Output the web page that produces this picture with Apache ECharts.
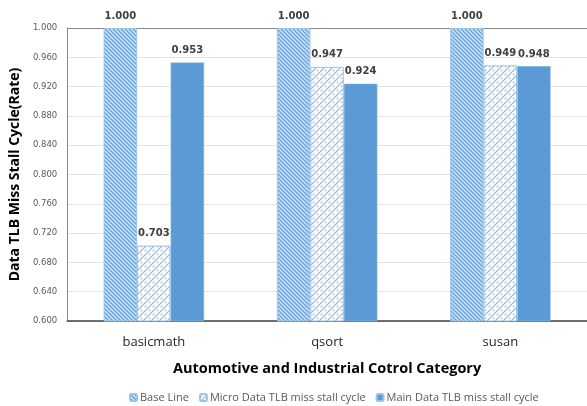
<!DOCTYPE html>
<html>
<head>
<meta charset="utf-8">
<script src="https://cdn.jsdelivr.net/npm/echarts@6/dist/echarts.min.js"></script>
<style>
  html, body { margin: 0; padding: 0; background: #fff; }
  #chart { width: 587px; height: 406px; }
</style>
</head>
<body>
<div id="chart"></div>
<script>
// Benchmarks in the automotive / industrial control category
const categories = ['basicmath', 'qsort', 'susan'];
const seriesNames = ['Base Line', 'Micro Data TLB miss stall cycle', 'Main Data TLB miss stall cycle'];
const baseLine = [1.000, 1.000, 1.000];
const microStall = [0.703, 0.947, 0.949];
const mainStall = [0.953, 0.924, 0.948];

// Dense "\\\" hatch for the baseline bars
function baseHatch() {
  const c = document.createElement('canvas');
  c.width = 4; c.height = 4;
  const g = c.getContext('2d');
  g.fillStyle = '#c9ddf1';
  g.fillRect(0, 0, 4, 4);
  g.strokeStyle = '#5b9bd5';
  g.lineWidth = 1.1;
  g.beginPath();
  g.moveTo(-1, -1); g.lineTo(5, 5);
  g.moveTo(-1, 3); g.lineTo(1, 5);
  g.moveTo(3, -1); g.lineTo(5, 1);
  g.stroke();
  return c;
}

// Light dashed "///" lattice on white for the micro TLB bars
function microHatch() {
  const c = document.createElement('canvas');
  c.width = 8; c.height = 8;
  const g = c.getContext('2d');
  g.fillStyle = '#ffffff';
  g.fillRect(0, 0, 8, 8);
  g.strokeStyle = '#8cb8e4';
  g.lineWidth = 1.2;
  g.beginPath();
  g.moveTo(0, 8); g.lineTo(8, 0);
  g.moveTo(-1, 1); g.lineTo(1, -1);
  g.moveTo(7, 9); g.lineTo(9, 7);
  g.stroke();
  g.beginPath();
  g.moveTo(1, 2); g.lineTo(2, 3);
  g.moveTo(5, 6); g.lineTo(6, 7);
  g.stroke();
  return c;
}

const labelStyle = {
  show: true,
  position: 'top',
  distance: 7,
  fontFamily: 'DejaVu Sans',
  fontWeight: 'bold',
  fontSize: 10,
  color: '#404040',
  formatter: p => p.value.toFixed(3)
};

const chart = echarts.init(document.getElementById('chart'), null, { renderer: 'canvas' });

chart.setOption({
  animation: false,
  backgroundColor: '#ffffff',
  grid: { left: 63.5, right: -2, top: 28, bottom: 85 },
  legend: {
    top: 387,
    left: 124,
    itemWidth: 7,
    itemHeight: 7,
    itemGap: 10,
    textStyle: { fontFamily: 'Open Sans', fontSize: 11, color: '#595959', padding: [0, 0, 0, -2] },
    data: seriesNames
  },
  xAxis: [
    {
      type: 'category',
      data: categories,
      axisLine: { lineStyle: { color: '#404040', width: 1.5 } },
      axisTick: { show: false },
      axisLabel: { fontFamily: 'Open Sans', fontSize: 13, color: '#262626', margin: 15 },
      name: 'Automotive and Industrial Cotrol Category',
      nameLocation: 'middle',
      nameGap: 40,
      nameTextStyle: { fontFamily: 'Open Sans', fontWeight: 'bold', fontSize: 14.5, color: '#000' }
    },
    {
      type: 'category',
      data: categories,
      position: 'top',
      axisLine: { lineStyle: { color: '#898989', width: 1 } },
      axisTick: { show: false },
      axisLabel: { show: false }
    }
  ],
  yAxis: {
    type: 'value',
    min: 0.6,
    max: 1.0,
    interval: 0.04,
    axisLine: { show: true, lineStyle: { color: '#898989', width: 1 } },
    axisTick: { show: false },
    splitLine: { lineStyle: { color: '#e3e3e3', width: 1 } },
    axisLabel: {
      fontFamily: 'DejaVu Sans',
      fontSize: 8.5,
      color: '#595959',
      margin: 10,
      formatter: v => v.toFixed(3)
    },
    name: 'Data TLB Miss Stall Cycle(Rate)',
    nameLocation: 'middle',
    nameGap: 37,
    nameTextStyle: { fontFamily: 'Open Sans', fontWeight: 'bold', fontSize: 14, color: '#000' }
  },
  series: [
    {
      name: seriesNames[0],
      type: 'bar',
      data: baseLine,
      barGap: '0%',
      barCategoryGap: '42%',
      itemStyle: { color: { image: baseHatch(), repeat: 'repeat' }, borderColor: '#9dc3e6', borderWidth: 1 },
      label: labelStyle
    },
    {
      name: seriesNames[1],
      type: 'bar',
      data: microStall,
      barGap: '0%',
      barCategoryGap: '42%',
      itemStyle: { color: { image: microHatch(), repeat: 'repeat' }, borderColor: '#9dc3e6', borderWidth: 1 },
      label: labelStyle
    },
    {
      name: seriesNames[2],
      type: 'bar',
      data: mainStall,
      barGap: '0%',
      barCategoryGap: '42%',
      itemStyle: { color: '#5b9bd5', borderColor: '#9dc3e6', borderWidth: 0.5 },
      label: labelStyle
    }
  ]
});
</script>
</body>
</html>
